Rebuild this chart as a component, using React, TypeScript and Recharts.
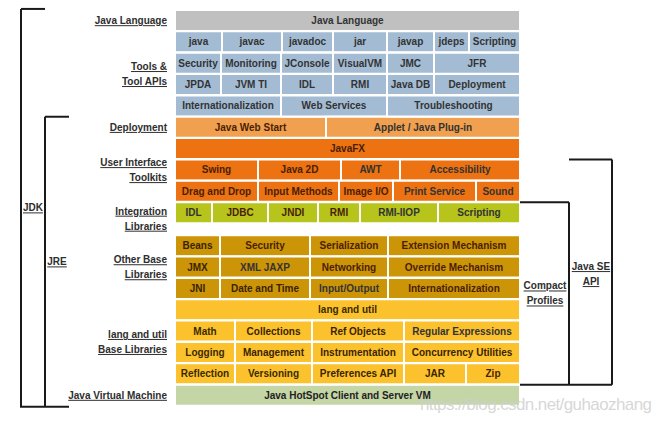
import { BarChart, Bar, XAxis, YAxis, Cell, LabelList, ReferenceLine, ReferenceDot } from 'recharts';

// text of each cell, row by row (top to bottom)
const cellText: string[][] = [
  ['Java Language'],
  ['java', 'javac', 'javadoc', 'jar', 'javap', 'jdeps', 'Scripting'],
  ['Security', 'Monitoring', 'JConsole', 'VisualVM', 'JMC', 'JFR'],
  ['JPDA', 'JVM TI', 'IDL', 'RMI', 'Java DB', 'Deployment'],
  ['Internationalization', 'Web Services', 'Troubleshooting'],
  ['Java Web Start', 'Applet / Java Plug-in'],
  ['JavaFX'],
  ['Swing', 'Java 2D', 'AWT', 'Accessibility'],
  ['Drag and Drop', 'Input Methods', 'Image I/O', 'Print Service', 'Sound'],
  ['IDL', 'JDBC', 'JNDI', 'RMI', 'RMI-IIOP', 'Scripting'],
  ['Beans', 'Security', 'Serialization', 'Extension Mechanism'],
  ['JMX', 'XML JAXP', 'Networking', 'Override Mechanism'],
  ['JNI', 'Date and Time', 'Input/Output', 'Internationalization'],
  ['lang and util'],
  ['Math', 'Collections', 'Ref Objects', 'Regular Expressions'],
  ['Logging', 'Management', 'Instrumentation', 'Concurrency Utilities'],
  ['Reflection', 'Versioning', 'Preferences API', 'JAR', 'Zip'],
  ['Java HotSpot Client and Server VM'],
];

// relative width of each cell (every row sums to 345)
const cellWidth: number[][] = [
  [345],
  [47, 60, 51, 54, 47, 35, 51],
  [46, 60, 52, 54, 47, 86],
  [46, 60, 52, 54, 47, 86],
  [106, 106, 133],
  [151, 194],
  [345],
  [83, 83, 59, 120],
  [83, 81, 54, 83, 44],
  [37, 56, 50, 42, 78, 82],
  [45, 90, 78, 132],
  [45, 90, 78, 132],
  [45, 90, 78, 132],
  [345],
  [60, 77, 92, 116],
  [60, 77, 92, 116],
  [60, 77, 92, 62, 54],
  [345],
];

const rowColor = [
  '#c0c0c0',
  '#a3bcd4', '#a3bcd4', '#a3bcd4', '#a3bcd4',
  '#f0a04e',
  '#ec7212', '#ec7212', '#ec7212',
  '#b6c41c',
  '#cc9407', '#cc9407', '#cc9407',
  '#fcc22e', '#fcc22e', '#fcc22e', '#fcc22e',
  '#c4d6a6',
];

const rowInk = [
  '#333', '#333', '#333', '#333', '#333',
  '#4a1e06', '#4a1e06', '#4a1e06', '#4a1e06',
  '#333', '#3a2400', '#3a2400', '#3a2400',
  '#3a2a00', '#3a2a00', '#3a2a00', '#3a2a00', '#222',
];

// group names on the left and the rows they cover
const groupLabels: string[][] = [
  ['Java Language'],
  ['Tools &', 'Tool APIs'],
  ['Deployment'],
  ['User Interface', 'Toolkits'],
  ['Integration', 'Libraries'],
  ['Other Base', 'Libraries'],
  ['lang and util', 'Base Libraries'],
  ['Java Virtual Machine'],
];
const groupRows: [number, number][] = [
  [0, 0], [1, 4], [5, 5], [6, 8], [9, 9], [10, 12], [13, 16], [17, 17],
];

const GAP = 0.55; // white space between Integration Libraries and Other Base Libraries
const TOTAL = cellText.length + GAP;
const rowTop = (i: number) => i + (i >= 10 ? GAP : 0);
const rowBottom = (i: number) => (i + 1 < cellText.length ? rowTop(i + 1) : TOTAL);
const groupCenters = groupRows.map(([a, b]) => (rowTop(a) + rowBottom(b)) / 2);

const MAX_CELLS = 7;
const data = cellText.map((cells, i) => {
  const row: Record<string, number | string> = { y: rowTop(i) + 0.5 };
  cells.forEach((t, k) => {
    row['s' + k] = cellWidth[i][k];
    row['l' + k] = t;
  });
  return row;
});

const font = '"Liberation Sans", Arial, sans-serif';
const ink = '#2e2e2e';

const GroupTick = (props: any) => {
  const { x, y, payload } = props;
  const idx = groupCenters.findIndex((c) => Math.abs(c - payload.value) < 1e-6);
  const lines = groupLabels[idx] ?? [];
  return (
    <g>
      {lines.map((t, k) => (
        <text
          key={k}
          x={x}
          y={y + (k - (lines.length - 1) / 2) * 15}
          dy="0.35em"
          textAnchor="end"
          fontFamily={font}
          fontSize={10}
          fontWeight="bold"
          fill={ink}
          textDecoration="underline"
        >
          {t}
        </text>
      ))}
    </g>
  );
};

const labelAt = (lines: string[], anchor = 'middle') => (p: any) => (
  <g>
    {lines.map((t, k) => (
      <text
        key={k}
        x={p.cx}
        y={p.cy + (k - (lines.length - 1) / 2) * 15}
        dy="0.35em"
        textAnchor={anchor}
        fontFamily={font}
        fontSize={10}
        fontWeight="bold"
        fill={ink}
        textDecoration="underline"
      >
        {t}
      </text>
    ))}
  </g>
);

const watermark = (p: any) => (
  <text
    x={p.cx}
    y={p.cy}
    fontFamily={font}
    fontSize={17}
    fill="#cfcfcf"
    fillOpacity={0.85}
    textLength={232}
  >
    https://blog.csdn.net/guhaozhang
  </text>
);

const line = { stroke: '#1a1a1a', strokeWidth: 2, ifOverflow: 'visible' as const };

const App = () => {
  return (
    <div style={{ position: 'absolute', left: 0, top: 0, background: '#fff' }}>
      <BarChart
        width={661}
        height={421}
        layout="vertical"
        data={data}
        margin={{ top: 10, right: 141, bottom: 15, left: 0 }}
        barSize={21}
      >
        <XAxis type="number" domain={[0, 345]} hide />
        <YAxis
          type="number"
          dataKey="y"
          domain={[0, TOTAL]}
          ticks={groupCenters}
          interval={0}
          width={175}
          axisLine={false}
          tickLine={false}
          tick={<GroupTick />}
        />
        {Array.from({ length: MAX_CELLS }, (_, k) => (
          <Bar
            key={k}
            dataKey={'s' + k}
            stackId="row"
            stroke="#ffffff"
            strokeWidth={2}
            isAnimationActive={false}
          >
            {data.map((_, i) => (
              <Cell key={i} fill={rowColor[i]} />
            ))}
            <LabelList
              dataKey={'l' + k}
              content={(p: any) => {
                if (!p.value || !p.width) return null;
                const i = p.index ?? 0;
                return (
                  <text
                    x={p.x + p.width / 2}
                    y={p.y + p.height / 2}
                    dy="0.35em"
                    textAnchor="middle"
                    fontFamily={font}
                    fontSize={10}
                    fontWeight="bold"
                    fill={rowInk[i]}
                  >
                    {p.value}
                  </text>
                );
              }}
            />
          </Bar>
        ))}

        {/* JDK bracket */}
        <ReferenceLine segment={[{ x: -154, y: -0.05 }, { x: -130, y: -0.05 }]} {...line} />
        <ReferenceLine segment={[{ x: -154, y: -0.05 }, { x: -154, y: TOTAL + 0.03 }]} {...line} />
        <ReferenceLine segment={[{ x: -155, y: TOTAL + 0.03 }, { x: -106, y: TOTAL + 0.03 }]} {...line} />
        {/* JRE bracket */}
        <ReferenceLine segment={[{ x: -130, y: rowTop(5) }, { x: -106, y: rowTop(5) }]} {...line} />
        <ReferenceLine segment={[{ x: -130, y: rowTop(5) }, { x: -130, y: TOTAL + 0.03 }]} {...line} />
        {/* Compact Profiles bracket */}
        <ReferenceLine segment={[{ x: 345, y: rowTop(9) }, { x: 394, y: rowTop(9) }]} {...line} />
        <ReferenceLine segment={[{ x: 394, y: rowTop(9) }, { x: 394, y: rowTop(17) }]} {...line} />
        <ReferenceLine segment={[{ x: 345, y: rowTop(17) }, { x: 437, y: rowTop(17) }]} {...line} />
        {/* Java SE API bracket */}
        <ReferenceLine segment={[{ x: 394, y: rowTop(7) }, { x: 437, y: rowTop(7) }]} {...line} />
        <ReferenceLine segment={[{ x: 437, y: rowTop(7) }, { x: 437, y: rowTop(17) }]} {...line} />

        <ReferenceDot x={-142} y={9.27} ifOverflow="visible" shape={labelAt(['JDK'])} />
        <ReferenceDot x={-118} y={11.8} ifOverflow="visible" shape={labelAt(['JRE'])} />
        <ReferenceDot x={370} y={13.28} ifOverflow="visible" shape={labelAt(['Compact', 'Profiles'])} />
        <ReferenceDot x={416} y={12.37} ifOverflow="visible" shape={labelAt(['Java SE', 'API'])} />
        <ReferenceDot x={245} y={18.73} ifOverflow="visible" shape={watermark} />
      </BarChart>
    </div>
  );
};

export default App;
